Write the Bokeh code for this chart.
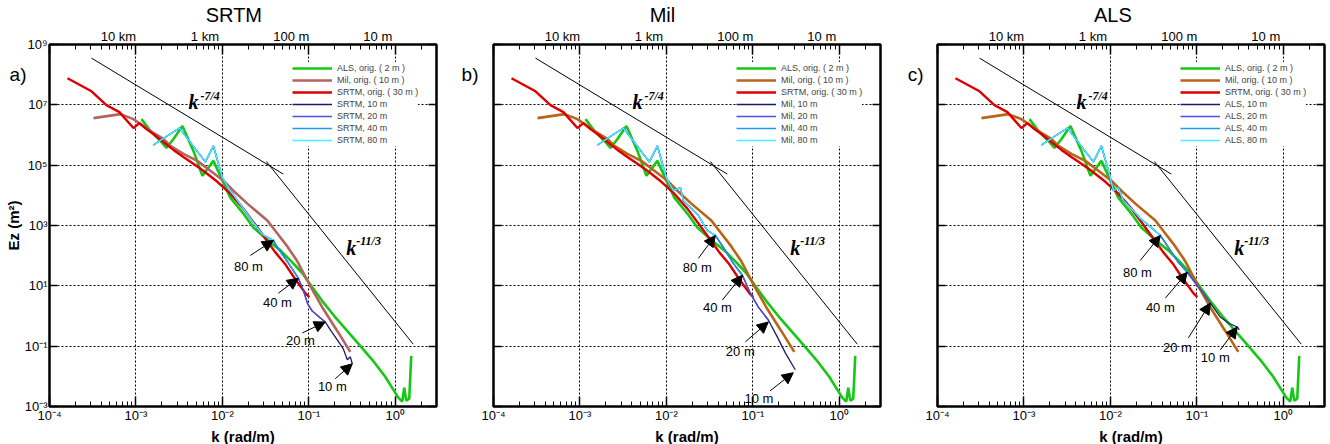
import math
from bokeh.plotting import figure
from bokeh.models import (LogAxis, FixedTicker, CustomJSTickFormatter, Arrow, Title,
                          NormalHead, ColumnDataSource, Legend, LegendItem, Range1d)
from bokeh.layouts import row
from bokeh.core.properties import value
from bokeh.embed import file_html
from bokeh.resources import INLINE

FONT = "Liberation Sans"
SERIF = "Liberation Serif"

# ---------------- axes / labels ----------------
x_decades = [-4, -3, -2, -1, 0]
y_tick_exp = [-3, -1, 1, 3, 5, 7, 9]
top_wavelengths_m = [10000, 1000, 100, 10]
titles = ["SRTM", "Mil", "ALS"]
title_logk = [-1.867, -2.046, -1.971]      # where each title is centred
letters = ["a)", "b)", "c)"]
letter_logE = 8.01                         # height of the panel letters
x_title = "k (rad/m)"
y_title = "Ez (m\u00b2)"
dist_labels = ["80 m", "40 m", "20 m", "10 m"]

# ---------------- data: log10(k [rad/m]) and log10(Ez [m^2]) ----------------
als_logk = [-2.936, -2.832, -2.717, -2.647, -2.566, -2.462, -2.335, -2.231, -2.104, -1.908,
            -1.757, -1.642, -1.445, -1.329, -1.191, -1.075, -0.960, -0.844, -0.705, -0.566,
            -0.405, -0.266, -0.116, -0.023, 0.035, 0.081, 0.104, 0.127, 0.162, 0.185]
als_logE = [6.527, 6.132, 5.802, 5.571, 5.868, 6.296, 5.472, 4.648, 5.142, 3.923,
            3.395, 2.933, 2.439, 2.175, 1.779, 1.417, 0.955, 0.494, -0.001, -0.462,
            -0.990, -1.452, -2.012, -2.441, -2.705, -2.837, -2.375, -2.804, -2.738, -1.320]

mil_logk = [-3.491, -3.179, -3.029, -2.832, -2.682, -2.601, -2.451, -2.289, -2.139, -1.988,
            -1.873, -1.711, -1.480, -1.364, -1.249, -1.133, -0.983, -0.832, -0.671, -0.520]
mil_logE = [6.560, 6.692, 6.527, 6.132, 5.868, 5.637, 5.373, 5.142, 4.813, 4.483,
            4.153, 3.725, 3.164, 2.736, 2.307, 1.812, 0.988, 0.230, -0.495, -1.188]

srtm_logk = [-3.792, -3.514, -3.341, -3.191, -3.029, -2.960, -2.879, -2.798, -2.682, -2.566,
             -2.451, -2.335, -2.220, -2.058, -1.908, -1.757, -1.595, -1.503, -1.387, -1.272,
             -1.156, -1.040, -0.994]
srtm_logE = [7.879, 7.450, 6.989, 6.758, 6.230, 6.395, 6.198, 6.033, 5.769, 5.505,
             5.274, 5.044, 4.813, 4.450, 4.054, 3.560, 2.933, 2.571, 2.109, 1.713,
             1.219, 0.757, 0.626]

# panel a: SRTM resampled
sr80_logk = [-2.798, -2.497, -2.197, -2.104, -2.000, -1.908, -1.757, -1.642, -1.538, -1.410]
sr80_logE = [5.670, 6.230, 5.109, 5.637, 4.582, 4.153, 3.560, 3.098, 2.703, 2.505]
sr40_logk = sr80_logk + [-1.364, -1.249, -1.121]
sr40_logE = sr80_logE + [2.274, 1.812, 1.252]
sr20_logk = sr40_logk + [-1.064, -1.017, -0.960, -0.867, -0.809]
sr20_logE = sr40_logE + [0.856, 0.428, 0.164, -0.067, -0.199]
sr10_logk = sr20_logk + [-0.751, -0.671, -0.601, -0.555, -0.520, -0.497]
sr10_logE = sr20_logE + [-0.462, -0.792, -1.089, -1.452, -1.353, -1.584]

# panel b: Mil resampled
ml80_logk = [-2.798, -2.497, -2.197, -2.104, -2.000, -1.919, -1.838, -1.803, -1.630, -1.526, -1.434]
ml80_logE = [5.670, 6.230, 5.109, 5.637, 4.582, 4.153, 4.252, 3.824, 3.329, 2.835, 2.670]
ml40_logk = ml80_logk + [-1.341, -1.225, -1.121]
ml40_logE = ml80_logE + [2.274, 1.746, 1.351]
ml20_logk = ml40_logk + [-1.029, -0.936, -0.821]
ml20_logE = ml40_logE + [0.757, 0.296, -0.133]
ml10_logk = ml20_logk + [-0.717, -0.624, -0.543, -0.509]
ml10_logE = ml20_logE + [-0.693, -1.221, -1.616, -1.781]

# panel c: ALS resampled
al80_logk = [-2.798, -2.497, -2.197, -2.104, -2.000, -1.965, -1.908, -1.850, -1.734, -1.653, -1.514, -1.422]
al80_logE = [5.670, 6.230, 5.109, 5.637, 4.582, 4.153, 4.252, 3.824, 3.494, 3.230, 2.900, 2.670]
al40_logk = al80_logk + [-1.306, -1.214, -1.110]
al40_logE = al80_logE + [2.175, 1.779, 1.450]
al20_logk = al40_logk + [-1.017, -0.925, -0.844]
al20_logE = al40_logE + [1.087, 0.757, 0.428]
al10_logk = al20_logk + [-0.728, -0.636, -0.532, -0.509]
al10_logE = al20_logE + [-0.034, -0.232, -0.364, -0.462]

# reference slopes k^-7/4 and k^-11/3 (end points)
ref74_logk = [-3.514, -1.295]
ref74_logE = [8.548, 4.704]
ref113_logk = [-1.491, 0.208]
ref113_logE = [5.120, -0.934]

# annotation positions (log10 k, log10 Ez)
k74_pos = (-2.335, 7.088)
k74_sup = (-2.254, 7.286)
k113_pos = (-0.509, 2.241)
k113_sup = (-0.451, 2.472)

arr_a = dict(tk=[-1.676, -1.353, -1.075, -0.694], tE=[2.010, 0.757, -0.561, -2.078],
             hk=[-1.410, -1.121, -0.809, -0.497], hE=[2.505, 1.252, -0.199, -1.584],
             lk=[-1.699, -1.364, -1.098, -0.728], lE=[1.648, 0.461, -0.825, -2.342])
arr_b = dict(tk=[-1.630, -1.353, -1.087, -0.800], tE=[1.911, 0.527, -0.858, -2.480],
             hk=[-1.434, -1.121, -0.821, -0.532], hE=[2.670, 1.351, -0.199, -1.880],
             lk=[-1.642, -1.410, -1.145, -0.930], lE=[1.615, 0.296, -1.188, -2.730])
arr_c = dict(tk=[-1.653, -1.364, -1.098, -0.728], tE=[1.845, 0.593, -0.726, -1.122],
             hk=[-1.422, -1.110, -0.844, -0.532], hE=[2.670, 1.450, 0.428, -0.364],
             lk=[-1.688, -1.422, -1.225, -0.786], lE=[1.450, 0.296, -1.056, -1.386])

GREEN = "#14c814"
RED = "#dc0000"
MIL_A = "#b4645f"
MIL_BC = "#b8651a"
C10 = "#1a1a70"
C20 = "#4f4fe6"
C40 = "#1e9bf0"
C80 = "#45f0ff"


def pw(a):
    return [10.0 ** v for v in a]


SUP_CODE = """
const s = {"-": "\u207b", "0": "\u2070", "1": "\u00b9", "2": "\u00b2", "3": "\u00b3",
           "4": "\u2074", "5": "\u2075", "6": "\u2076", "7": "\u2077", "8": "\u2078", "9": "\u2079"};
const e = Math.round(Math.log10(tick));
return "10" + String(e).split("").map(c => s[c]).join("");
"""

TOP_CODE = """
const lam = 2 * Math.PI / tick;
if (lam >= 999) { return Math.round(lam / 1000) + " km"; }
return Math.round(lam) + " m";
"""

EMPTY_CODE = "return '';"


def style_axis(ax, major_in, minor_in):
    ax.axis_line_color = None
    ax.major_tick_in = major_in
    ax.major_tick_out = 0
    ax.minor_tick_in = minor_in
    ax.minor_tick_out = 0
    ax.major_tick_line_color = "black"
    ax.minor_tick_line_color = "black"
    ax.major_tick_line_width = 1.5
    ax.minor_tick_line_width = 1
    ax.major_label_text_font = FONT
    ax.major_label_text_font_size = "13px"
    ax.major_label_text_color = "black"
    ax.axis_label_text_font = FONT
    ax.axis_label_text_font_style = "bold"
    ax.axis_label_text_font_size = "15px"
    ax.axis_label_text_color = "black"
    ax.major_label_standoff = 2
    ax.axis_label_standoff = 2


def hide_labels(ax):
    ax.formatter = CustomJSTickFormatter(code=EMPTY_CODE)
    ax.major_label_text_font_size = "1px"
    ax.major_label_standoff = 0


def text_axis(tick, text, size, style, standoff):
    ax = LogAxis(ticker=FixedTicker(ticks=[tick], minor_ticks=[]),
                 formatter=CustomJSTickFormatter(args=dict(t=text), code="return t;"))
    style_axis(ax, 0, 0)
    ax.major_tick_line_color = None
    ax.minor_tick_line_color = None
    ax.major_label_text_font_size = size
    ax.major_label_text_font_style = style
    ax.major_label_standoff = standoff
    return ax


def make_panel(idx, mil_color, res, arrows, width, bl, br, letter_standoff):
    p = figure(width=width, height=444, x_axis_type="log", y_axis_type="log",
               x_range=Range1d(1e-4, 3.0), y_range=Range1d(1e-3, 1e9),
               output_backend="svg", toolbar_location=None,
               min_border_left=bl, min_border_right=br,
               min_border_top=43, min_border_bottom=0)
    p.outline_line_color = "black"
    p.outline_line_width = 2.5
    p.background_fill_color = "white"
    p.border_fill_color = "white"

    xt = [10.0 ** e for e in x_decades]
    xminor = [m * 10.0 ** e for e in x_decades for m in range(2, 10) if m * 10.0 ** e < 3.0]
    yt = [10.0 ** e for e in y_tick_exp]

    xa = p.xaxis[0]
    xa.ticker = FixedTicker(ticks=xt, minor_ticks=xminor)
    xa.formatter = CustomJSTickFormatter(code=SUP_CODE)
    style_axis(xa, 10, 5)
    xa.axis_label = None
    xa.major_label_standoff = 1
    p.add_layout(Title(text=x_title, align="center", text_font=FONT, text_font_size="15px",
                       text_font_style="bold", text_color="black", standoff=0, offset=0),
                 "below")

    ya = p.yaxis[0]
    ya.ticker = FixedTicker(ticks=yt, minor_ticks=[])
    ya.formatter = CustomJSTickFormatter(code=SUP_CODE)
    style_axis(ya, 8, 0)
    if idx == 0:
        ya.axis_label = y_title
        ya.axis_label_standoff = 0
    else:
        hide_labels(ya)
    p.add_layout(text_axis(10 ** letter_logE, letters[idx], "19px", "normal", letter_standoff), "left")

    ra = LogAxis(ticker=FixedTicker(ticks=yt, minor_ticks=[]))
    style_axis(ra, 8, 0)
    hide_labels(ra)
    p.add_layout(ra, "right")

    t1 = LogAxis(ticker=FixedTicker(ticks=xt, minor_ticks=xminor))
    style_axis(t1, 10, 5)
    hide_labels(t1)
    p.add_layout(t1, "above")

    t2 = LogAxis(ticker=FixedTicker(ticks=[2 * math.pi / w for w in top_wavelengths_m], minor_ticks=[]),
                 formatter=CustomJSTickFormatter(code=TOP_CODE))
    style_axis(t2, 0, 0)
    t2.major_tick_line_color = None
    t2.minor_tick_line_color = None
    t2.major_label_standoff = 1
    p.add_layout(t2, "above")
    p.add_layout(text_axis(10 ** title_logk[idx], titles[idx], "20px", "normal", 0), "above")

    for g in (p.xgrid, p.ygrid):
        g.grid_line_color = "black"
        g.grid_line_dash = "2 2"
        g.grid_line_width = 1
        g.grid_line_alpha = 1

    # reference slopes
    p.line(pw(ref74_logk), pw(ref74_logE), line_color="black", line_width=1)
    p.line(pw(ref113_logk), pw(ref113_logE), line_color="black", line_width=1)

    r_als = p.line(pw(als_logk), pw(als_logE), line_color=GREEN, line_width=2.6)
    r_mil = p.line(pw(mil_logk), pw(mil_logE), line_color=mil_color, line_width=2.6)
    r_srtm = p.line(pw(srtm_logk), pw(srtm_logE), line_color=RED, line_width=2.4)
    rr = []
    for (lk, le), col in zip(res, [C10, C20, C40, C80]):
        rr.append(p.line(pw(lk), pw(le), line_color=col, line_width=1.3))

    name = titles[idx]
    items = [LegendItem(label="ALS, orig. ( 2 m )", renderers=[r_als]),
             LegendItem(label="Mil, orig. ( 10 m )", renderers=[r_mil]),
             LegendItem(label="SRTM, orig. ( 30 m )", renderers=[r_srtm])]
    for r, res_m in zip(rr, [10, 20, 40, 80]):
        items.append(LegendItem(label="%s, %d m" % (name, res_m), renderers=[r]))
    leg = Legend(items=items, location=(243, 260), glyph_width=40, glyph_height=12,
                 label_height=12, spacing=0, padding=6, margin=0, label_standoff=5,
                 label_text_font=FONT, label_text_font_size="9px",
                 border_line_color=None, background_fill_color="white",
                 background_fill_alpha=1)
    p.add_layout(leg)

    # slope labels
    for (kx, ky), (sx, sy), sup in [(k74_pos, k74_sup, "-7/4"), (k113_pos, k113_sup, "-11/3")]:
        p.text(x=[10 ** kx], y=[10 ** ky], text=["k"], text_font=value(SERIF),
               text_font_style="bold italic", text_font_size="20px",
               text_align="center", text_baseline="middle", text_color="black")
        p.text(x=[10 ** sx], y=[10 ** sy], text=[sup], text_font=value(SERIF),
               text_font_style="bold italic", text_font_size="12px",
               text_align="left", text_baseline="middle", text_color="black")

    # arrows pointing at the resampled spectra ends
    src = ColumnDataSource(dict(x0=pw(arrows["tk"]), y0=pw(arrows["tE"]),
                                x1=pw(arrows["hk"]), y1=pw(arrows["hE"])))
    p.add_layout(Arrow(end=NormalHead(size=11, fill_color="black", line_color="black"),
                       x_start="x0", y_start="y0", x_end="x1", y_end="y1",
                       source=src, line_color="black", line_width=1))
    p.text(x=pw(arrows["lk"]), y=pw(arrows["lE"]), text=dist_labels,
           text_font=value(FONT), text_font_size="13px", text_align="center",
           text_baseline="middle", text_color="black")
    return p


pa = make_panel(0, MIL_A, [(sr10_logk, sr10_logE), (sr20_logk, sr20_logE),
                           (sr40_logk, sr40_logE), (sr80_logk, sr80_logE)],
                arr_a, 450, 49, 14, -25)
pb = make_panel(1, MIL_BC, [(ml10_logk, ml10_logE), (ml20_logk, ml20_logE),
                            (ml40_logk, ml40_logE), (ml80_logk, ml80_logE)],
                arr_b, 444, 43, 14, 15)
pc = make_panel(2, MIL_BC, [(al10_logk, al10_logE), (al20_logk, al20_logE),
                            (al40_logk, al40_logE), (al80_logk, al80_logE)],
                arr_c, 436, 43, 6, 14)

layout = row(pa, pb, pc)
open("out.html", "w").write(file_html(layout, INLINE))
